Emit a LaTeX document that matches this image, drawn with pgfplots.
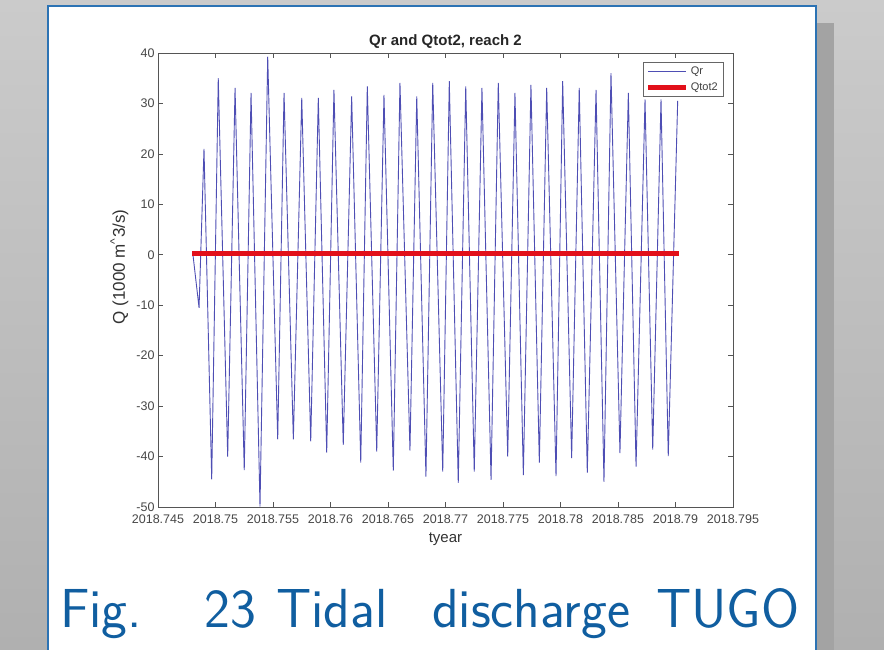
\documentclass[border=0pt]{standalone}
\usepackage{fontspec}
\usepackage{pgfplots}
\pgfplotsset{compat=1.18}
\newfontfamily\plotfont{Liberation Sans}

\definecolor{slideblue}{RGB}{16,94,160}
\definecolor{frameblue}{RGB}{44,115,180}
\definecolor{qrblue}{RGB}{78,78,180}
\definecolor{qtred}{RGB}{226,16,26}
\definecolor{axgray}{RGB}{85,85,85}
\definecolor{bgtop}{RGB}{203,203,203}
\definecolor{bgbottom}{RGB}{176,176,176}
\definecolor{shadowgray}{RGB}{163,163,163}

% time axis: thousandths of a year after 2018.0
\pgfplotstableread{
t       q
748.04    0.0
748.57  -10.5
749.00   21.0
749.67  -44.5
750.24   35.0
751.06  -40.0
751.70   33.1
752.50  -42.7
753.09   32.1
753.87  -49.9
754.54   39.3
755.41  -36.6
755.96   32.1
756.77  -36.6
757.50   31.1
758.28  -37.0
758.94   31.1
759.67  -39.2
760.30   32.7
761.11  -37.7
761.84   31.4
762.63  -41.2
763.20   33.4
764.02  -39.0
764.65   31.7
765.46  -42.8
766.04   34.1
766.91  -38.8
767.50   31.4
768.30  -44.0
768.89   34.1
769.76  -43.0
770.33   34.4
771.11  -45.2
771.76   33.4
772.50  -43.0
773.17   33.1
773.96  -44.6
774.59   34.1
775.41  -40.0
776.04   32.1
776.77  -43.7
777.43   33.7
778.16  -41.2
778.80   33.1
779.61  -43.9
780.19   34.4
780.97  -40.3
781.63   33.1
782.33  -43.2
783.09   32.7
783.78  -45.0
784.39   36.0
785.17  -39.3
785.90   32.1
786.57  -42.0
787.35   30.8
788.02  -38.6
788.74   30.8
789.37  -39.9
790.19   30.5
}\qrdata

\begin{document}
\begin{tikzpicture}[x=1pt,y=1pt]
\path[use as bounding box] (0,0) rectangle (884,649);
\begin{scope}
\clip (0,0) rectangle (884,649);
% slide background, frame shadow and frame
\shade[top color=bgtop, bottom color=bgbottom] (0,0) rectangle (884,649);
\fill[shadowgray] (816,-5) rectangle (834,626);
\filldraw[fill=white, draw=frameblue, line width=1.2pt] (48,-5) rectangle (816,643);

\begin{axis}[
  at={(158pt,142pt)}, anchor=south west,
  scale only axis, width=575pt, height=454pt,
  xmin=745, xmax=795, ymin=-50, ymax=40,
  xtick={745,750,...,795},
  xticklabels={2018.745,2018.75,2018.755,2018.76,2018.765,2018.77,2018.775,2018.78,2018.785,2018.79,2018.795},
  ytick={-50,-40,...,40},
  axis line style={draw=axgray, line width=0.7pt},
  major tick style={draw=axgray, line width=0.6pt},
  major tick length=5pt,
  tick align=inside,
  /pgf/number format/assume math mode=true,
  tick label style={font=\fontsize{12.5}{14}\plotfont, text=black!72},
  x tick label style={yshift=-4pt},
  title={Qr and Qtot2, reach 2},
  title style={font=\fontsize{15}{17}\plotfont\bfseries, text=black!85, at={(axis description cs:0.5,1)}, anchor=base, yshift=2pt},
  xlabel={tyear},
  xlabel style={font=\fontsize{15}{17}\plotfont, text=black!80, at={(axis description cs:0.5,-0.0771)}, anchor=base},
  ylabel={Q (1000 m\textsuperscript{\textasciicircum}3/s)},
  ylabel style={font=\fontsize{17}{19}\plotfont, text=black!80, at={(axis description cs:-0.0574,0.5286)}, anchor=base},
  legend style={at={(axis description cs:1,1)}, anchor=north east, xshift=-10pt, yshift=-9pt,
    draw=black!60, line width=0.5pt, font=\fontsize{11}{13}\plotfont, text=black!75,
    inner sep=3pt, row sep=2pt, cells={anchor=west}},
  legend image code/.code={\draw[#1] (0pt,0pt) -- (38pt,0pt);},
]
\addplot[qrblue, line width=0.9pt] table[x=t, y=q] {\qrdata};
\addlegendentry{Qr}
\addplot[qtred, line width=5pt] coordinates {(747.96,0.3) (790.30,0.3)};
\addlegendentry{Qtot2}
\end{axis}

% figure caption of the slide, words set on a justified line
\begin{scope}[every node/.style={anchor=base west, inner sep=0, text=slideblue, font=\fontsize{55}{62}\sffamily}]
\node at (60,22) {Fig.};
\node at (204,22) {23};
\node at (276,22) {Tidal};
\node at (432,22) {discharge};
\node at (656,22) {TUGO};
\end{scope}
\end{scope}
\end{tikzpicture}
\end{document}
